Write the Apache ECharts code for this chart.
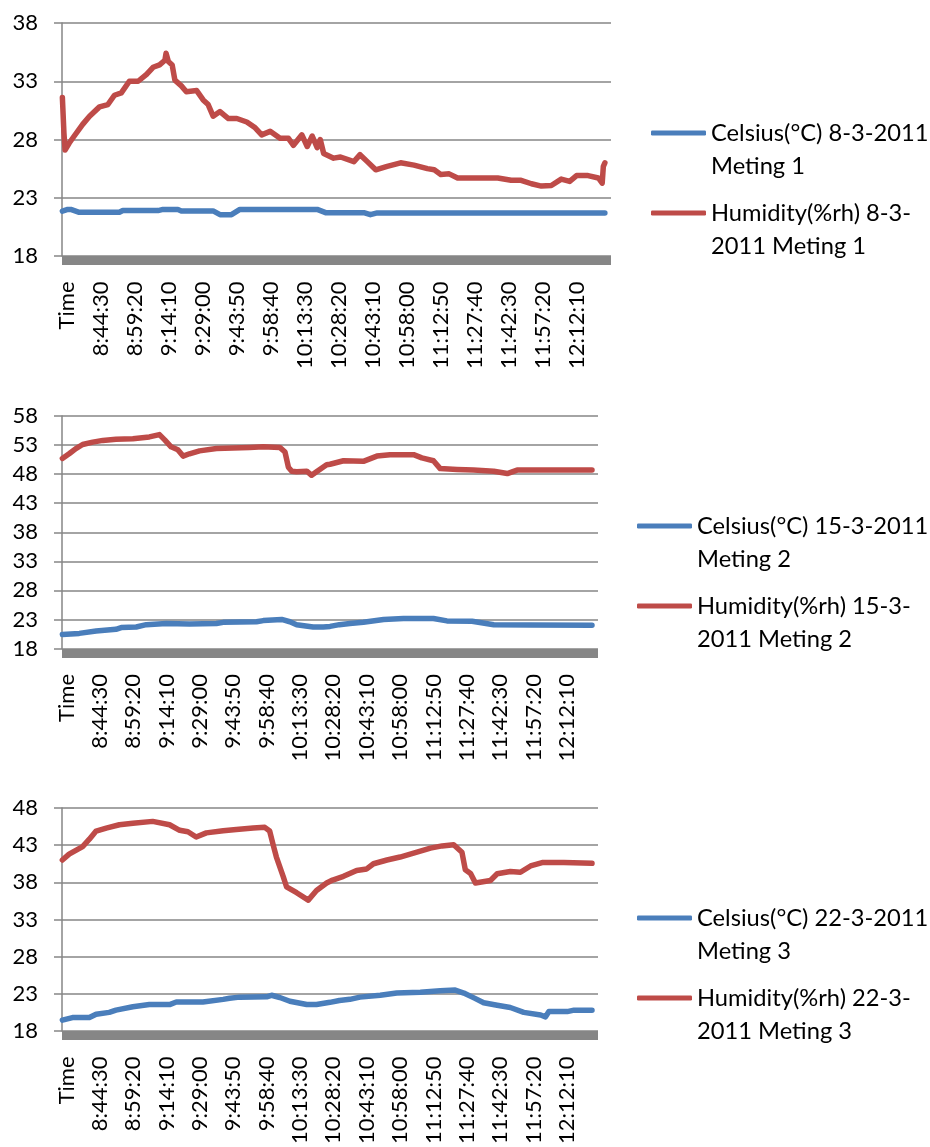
<!DOCTYPE html>
<html><head><meta charset="utf-8">
<script src="https://cdn.jsdelivr.net/npm/echarts@6/dist/echarts.min.js"></script>
<style>html,body{margin:0;padding:0;background:#fff}#c{width:930px;height:1147px}</style>
</head><body><div id="c"></div>
<script>
// ---- tick labels of the category (time) axis: one label every 89 samples (14:50) ----
const tickLabels = ['Time','8:44:30','8:59:20','9:14:10','9:29:00','9:43:50','9:58:40','10:13:30',
  '10:28:20','10:43:10','10:58:00','11:12:50','11:27:40','11:42:30','11:57:20','12:12:10'];

// ---- Meting 1 (8-3-2011) ----
const m1Celsius = [['8:29:50',21.85],['8:32:10',22.0],['8:33:30',22.0],['8:37:10',21.75],['8:54:40',21.75],['8:56:10',21.9],
  ['9:11:30',21.9],['9:13:40',22.0],['9:20:10',22.0],['9:21:40',21.87],['9:35:30',21.87],['9:38:30',21.55],['9:43:30',21.55],
  ['9:47:10',22.0],['10:20:50',22.0],['10:24:30',21.72],['10:41:10',21.72],['10:44:00',21.55],['10:47:00',21.7],['12:26:10',21.7]];
const m1Humidity = [['8:29:50',31.6],['8:30:30',28.6],['8:31:00',27.1],['8:32:50',27.7],['8:35:00',28.3],['8:38:40',29.3],
  ['8:41:40',30.0],['8:46:00',30.8],['8:49:40',31.0],['8:52:30',31.8],['8:55:30',32.0],['8:59:00',33.0],['9:02:50',33.0],
  ['9:06:30',33.6],['9:09:20',34.2],['9:12:10',34.4],['9:14:30',34.8],['9:15:00',35.4],['9:16:00',34.7],['9:17:40',34.4],
  ['9:18:50',33.1],['9:21:40',32.6],['9:23:50',32.1],['9:28:20',32.2],['9:31:10',31.4],['9:33:20',31.0],['9:35:30',30.0],
  ['9:38:30',30.4],['9:42:10',29.8],['9:45:50',29.8],['9:50:10',29.5],['9:53:50',29.0],['9:56:40',28.4],['10:00:20',28.7],
  ['10:04:40',28.1],['10:08:20',28.1],['10:10:30',27.5],['10:14:10',28.4],['10:16:30',27.4],['10:18:40',28.3],['10:20:50',27.3],
  ['10:22:10',28.0],['10:23:40',26.8],['10:28:00',26.4],['10:31:00',26.5],['10:36:50',26.1],['10:39:30',26.7],['10:42:40',26.1],
  ['10:46:20',25.4],['10:51:20',25.7],['10:57:10',26.0],['11:03:00',25.8],['11:08:50',25.5],['11:11:50',25.4],['11:14:40',25.0],
  ['11:18:20',25.05],['11:22:00',24.7],['11:30:50',24.7],['11:39:30',24.7],['11:45:20',24.5],['11:49:40',24.5],['11:54:10',24.2],
  ['11:58:30',24.0],['12:02:50',24.05],['12:07:10',24.6],['12:10:50',24.4],['12:13:50',24.9],['12:18:50',24.9],['12:23:20',24.7],
  ['12:25:00',24.25],['12:25:30',25.7],['12:26:10',26.0]];

// ---- Meting 2 (15-3-2011) ----
const m2Celsius = [['8:29:50',20.4],['8:37:20',20.6],['8:44:50',21.0],['8:53:40',21.3],['8:56:00',21.6],['9:02:40',21.7],
  ['9:07:10',22.1],['9:16:00',22.3],['9:26:20',22.2],['9:38:20',22.3],['9:41:20',22.5],['9:56:10',22.6],['9:59:10',22.8],
  ['10:07:20',23.0],['10:11:00',22.6],['10:14:00',22.1],['10:21:20',21.7],['10:25:50',21.7],['10:28:50',21.8],['10:33:00',22.1],
  ['10:37:40',22.3],['10:43:40',22.5],['10:52:40',23.0],['11:01:30',23.15],['11:14:50',23.15],['11:20:50',22.75],['11:32:00',22.7],
  ['11:41:40',22.1],['11:58:00',22.05],['12:25:20',22.0]];
const m2Humidity = [['8:29:50',50.7],['8:32:50',51.5],['8:35:50',52.4],['8:38:50',53.1],['8:43:20',53.5],['8:47:50',53.8],
  ['8:53:40',54.0],['9:01:10',54.1],['9:08:30',54.4],['9:13:00',54.8],['9:15:20',53.9],['9:18:10',52.7],['9:21:10',52.2],
  ['9:23:30',51.1],['9:26:20',51.5],['9:30:50',52.0],['9:38:20',52.4],['9:45:40',52.5],['9:53:10',52.6],['9:59:10',52.7],
  ['10:06:30',52.6],['10:08:50',51.8],['10:10:20',49.2],['10:11:50',48.5],['10:14:00',48.4],['10:18:30',48.5],['10:20:40',47.8],
  ['10:22:50',48.4],['10:27:20',49.6],['10:28:50',49.7],['10:34:50',50.3],['10:43:40',50.2],['10:49:40',51.1],['10:55:30',51.35],
  ['11:06:00',51.35],['11:09:40',50.8],['11:14:50',50.3],['11:17:50',48.95],['11:25:20',48.8],['11:32:40',48.7],['11:41:40',48.5],
  ['11:47:40',48.1],['11:52:00',48.7],['12:05:30',48.7],['12:25:20',48.7]];

// ---- Meting 3 (22-3-2011) ----
const m3Celsius = [['8:29:50',19.45],['8:34:20',19.8],['8:41:50',19.8],['8:44:50',20.25],['8:50:40',20.5],['8:53:40',20.8],
  ['9:01:10',21.25],['9:08:30',21.55],['9:17:30',21.55],['9:20:30',21.9],['9:32:20',21.9],['9:41:20',22.25],['9:44:10',22.4],
  ['9:48:40',22.55],['10:00:40',22.6],['10:02:50',22.8],['10:06:30',22.5],['10:11:00',22.0],['10:18:30',21.55],['10:22:50',21.55],
  ['10:28:50',21.85],['10:33:00',22.1],['10:37:40',22.25],['10:42:10',22.55],['10:51:10',22.8],['10:58:30',23.1],['11:09:00',23.2],
  ['11:17:50',23.4],['11:24:30',23.5],['11:28:20',23.1],['11:32:50',22.45],['11:37:10',21.8],['11:43:10',21.45],['11:49:00',21.15],
  ['11:55:00',20.5],['12:02:30',20.15],['12:04:40',19.9],['12:06:10',20.6],['12:14:20',20.6],['12:17:20',20.8],['12:25:20',20.8]];
const m3Humidity = [['8:29:50',41.0],['8:32:50',41.8],['8:38:50',42.8],['8:41:50',43.8],['8:44:50',44.9],['8:49:20',45.3],
  ['8:55:10',45.75],['9:01:10',45.95],['9:10:00',46.2],['9:17:30',45.75],['9:22:00',45.0],['9:25:40',44.8],['9:29:20',44.1],
  ['9:33:50',44.65],['9:41:20',44.95],['9:47:10',45.1],['9:54:40',45.3],['9:59:50',45.4],['10:02:00',44.9],['10:03:30',43.1],
  ['10:05:00',41.4],['10:08:00',38.8],['10:09:30',37.4],['10:14:00',36.6],['10:19:10',35.6],['10:22:50',36.9],['10:27:20',37.9],
  ['10:30:00',38.3],['10:34:50',38.8],['10:40:40',39.6],['10:45:10',39.8],['10:48:10',40.5],['10:54:10',41.0],['11:00:00',41.4],
  ['11:07:30',42.05],['11:13:30',42.6],['11:18:40',42.9],['11:23:50',43.05],['11:27:30',42.05],['11:29:00',39.7],['11:31:20',39.2],
  ['11:33:30',37.9],['11:40:10',38.25],['11:43:10',39.15],['11:49:00',39.45],['11:53:30',39.35],['11:58:00',40.2],['12:03:10',40.65],
  ['12:12:50',40.65],['12:25:20',40.55]];

// ---- series names and legend text ----
const seriesNames = [
  ['Celsius(°C) 8-3-2011 Meting 1', 'Humidity(%rh) 8-3-2011 Meting 1'],
  ['Celsius(°C) 15-3-2011 Meting 2', 'Humidity(%rh) 15-3-2011 Meting 2'],
  ['Celsius(°C) 22-3-2011 Meting 3', 'Humidity(%rh) 22-3-2011 Meting 3']
];
const legendText = {
  'Celsius(°C) 8-3-2011 Meting 1': ['Celsius(°C) 8-3-2011', 'Meting 1'],
  'Humidity(%rh) 8-3-2011 Meting 1': ['Humidity(%rh) 8-3-', '2011 Meting 1'],
  'Celsius(°C) 15-3-2011 Meting 2': ['Celsius(°C) 15-3-2011', 'Meting 2'],
  'Humidity(%rh) 15-3-2011 Meting 2': ['Humidity(%rh) 15-3-', '2011 Meting 2'],
  'Celsius(°C) 22-3-2011 Meting 3': ['Celsius(°C) 22-3-2011', 'Meting 3'],
  'Humidity(%rh) 22-3-2011 Meting 3': ['Humidity(%rh) 22-3-', '2011 Meting 3']
};
const yMax = [38, 58, 48];
const yMin = [18, 18, 18];

// ---------------------------------------------------------------
const START = 8*3600 + 29*60 + 40;   // position of the "Time" category
const STEP = 890;                    // label interval (89 samples x 10 s)
function sec(t){ const p = t.split(':').map(Number); return p[0]*3600 + p[1]*60 + (p[2]||0) - START; }
function pts(arr){ return arr.map(d => [sec(d[0]), d[1]]); }

const FONT = 'Lato';
const BLUE = '#4A7EBB', RED = '#BE4B48', GRIDC = '#868686', BAND = '#868686';
const LH = 33;

const layout = [
  {top:23,  height:233,   width:549, xmax:14350, legendLeft:651, legendC:[133,213]},
  {top:416, height:232.5, width:536, xmax:14300, legendLeft:637, legendC:[526,606]},
  {top:808, height:230.5, width:536, xmax:14300, legendLeft:637, legendC:[918,998]}
];
const data = [[m1Celsius, m1Humidity],[m2Celsius, m2Humidity],[m3Celsius, m3Humidity]];

const option = {animation:false, backgroundColor:'#fff', grid:[], xAxis:[], yAxis:[], series:[], legend:[]};
layout.forEach((L, i) => {
  option.grid.push({left:62, top:L.top, width:L.width, height:L.height, containLabel:false});
  option.xAxis.push({
    gridIndex:i, type:'value', min:0, max:L.xmax, interval:STEP, offset:4.5,
    axisLine:{show:true, onZero:false, lineStyle:{color:BAND, width:9, cap:'butt'}},
    axisTick:{show:false}, splitLine:{show:false},
    axisLabel:{rotate:90, margin:21, fontFamily:FONT, fontSize:22, color:'#000', showMaxLabel:false, hideOverlap:false,
      verticalAlign:'top', lineHeight:9,
      formatter: v => { const k = Math.round(v/STEP); return (Math.abs(v - k*STEP) < 1e-6 && k < tickLabels.length) ? tickLabels[k] : ''; }}
  });
  option.yAxis.push({
    gridIndex:i, type:'value', min:yMin[i], max:yMax[i], interval:5,
    axisLine:{show:true, lineStyle:{color:GRIDC, width:1.5}},
    axisTick:{show:true, length:8, lineStyle:{color:GRIDC, width:1.5}},
    splitLine:{show:true, lineStyle:{color:GRIDC, width:1.5}},
    axisLabel:{margin:24, fontFamily:FONT, fontSize:22, color:'#000'}
  });
  [BLUE, RED].forEach((col, j) => {
    const name = seriesNames[i][j];
    option.series.push({
      type:'line', name, xAxisIndex:i, yAxisIndex:i, data:pts(data[i][j]),
      showSymbol:false, symbol:'none', color:col,
      lineStyle:{color:col, width:5.5, cap:'round', join:'round'},
      itemStyle:{color:col}
    });
    // empty first line so that the legend line sits level with the first text line
    option.legend.push({
      orient:'vertical', left:L.legendLeft, top:L.legendC[j] - 1.5*LH, padding:0,
      itemWidth:55, itemHeight:5, itemGap:0, icon:'roundRect', selectedMode:false,
      data:[name], formatter: n => '\n' + legendText[n].join('\n'),
      textStyle:{fontFamily:FONT, fontSize:23.7, color:'#000', lineHeight:LH}
    });
  });
});

const chart = echarts.init(document.getElementById('c'), null, {renderer:'canvas', width:930, height:1147});
chart.setOption(option);
</script>
</body></html>
